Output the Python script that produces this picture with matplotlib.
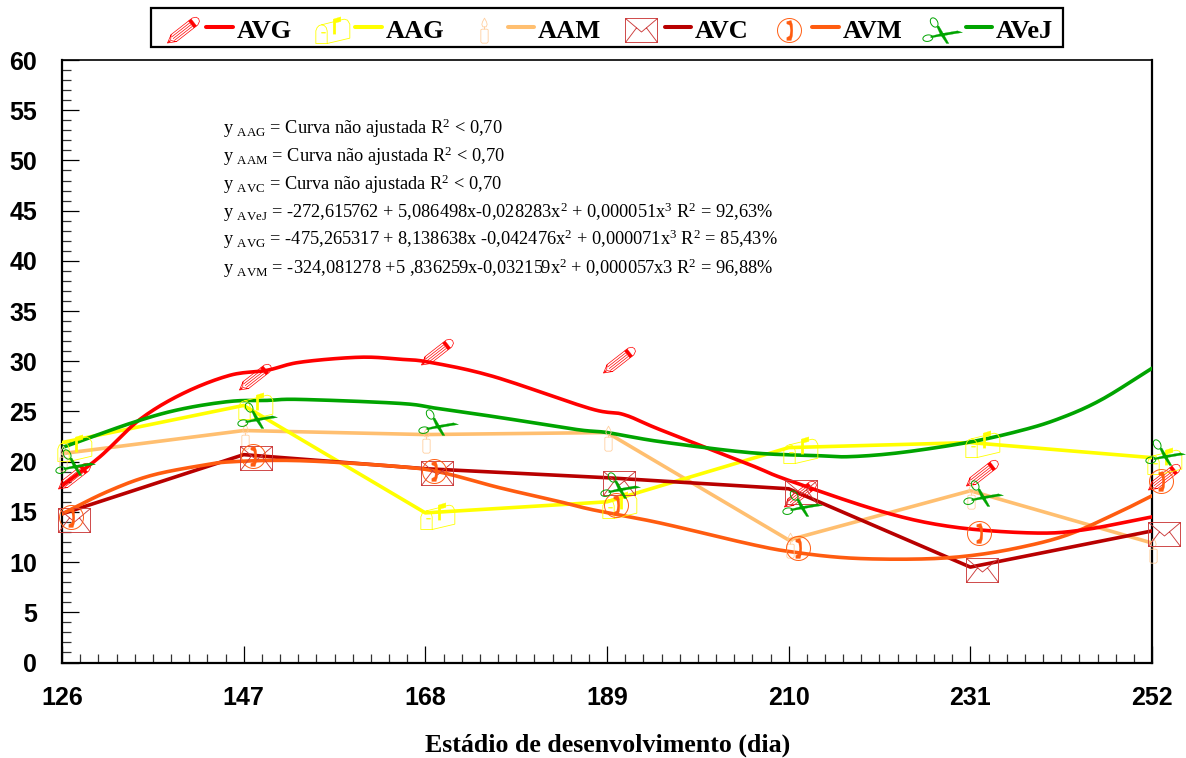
import numpy as np
import matplotlib
matplotlib.use("Agg")
import matplotlib.pyplot as plt
from matplotlib.path import Path
from matplotlib.lines import Line2D
from matplotlib.patches import Rectangle
from matplotlib.legend_handler import HandlerBase
from matplotlib.ticker import MultipleLocator, FixedLocator
from matplotlib.transforms import ScaledTranslation

plt.rcParams['font.family'] = ['Liberation Sans', 'DejaVu Sans']
plt.rcParams['mathtext.fontset'] = 'custom'
plt.rcParams['mathtext.rm'] = 'Liberation Serif'
plt.rcParams['mathtext.it'] = 'Liberation Serif:italic'
plt.rcParams['mathtext.bf'] = 'Liberation Serif:bold'
plt.rcParams['mathtext.default'] = 'rm'

days = [126, 147, 168, 189, 210, 231, 252]
names = ['AVG', 'AAG', 'AAM', 'AVC', 'AVM', 'AVeJ']
colors = ['#ff0000', '#ffff00', '#ffbf70', '#b80000', '#ff5c10', '#00a400']
marker_colors = ['#ff0000', '#ffff00', '#ffcf9f', '#cc3c3c', '#ff5c10', '#00a400']

avg_x = [126, 130.4, 135.0, 140.0, 145.4, 149.7, 153.5, 160.4, 165.1, 168.5, 175.8, 187.0, 190.9, 195.1, 205.5, 209.8, 220.9, 229.0, 238.2, 244.0, 252]
avg_y = [17.6, 20.5, 24.2, 26.8, 28.6, 29.1, 29.9, 30.4, 30.2, 29.9, 28.5, 25.3, 24.7, 23.2, 19.7, 18.2, 15.0, 13.5, 12.9, 13.2, 14.5]
aag_x = days
aag_y = [21.9, 25.6, 14.9, 16.0, 21.4, 21.9, 20.4]
aam_x = days
aam_y = [20.8, 23.1, 22.7, 22.9, 12.2, 17.1, 11.9]
avc_x = days
avc_y = [14.8, 20.7, 19.3, 18.4, 17.3, 9.5, 13.1]
avm_x = [126, 131.2, 136.2, 142, 145.8, 153.5, 165.1, 170, 176.6, 183.6, 187.4, 195.1, 205.5, 210.5, 217.1, 224.8, 230.6, 236.4, 242.2, 248, 252]
avm_y = [14.8, 17.0, 18.6, 19.6, 20.0, 20.1, 19.5, 18.9, 17.4, 16.0, 15.2, 13.9, 11.8, 11.0, 10.4, 10.3, 10.6, 11.4, 12.7, 14.9, 16.6]
avej_x = [126, 134.2, 139.6, 145.4, 149.7, 153.5, 165.1, 169.4, 176.6, 185.5, 189, 195.1, 205.5, 213.3, 217.1, 222.9, 230.6, 236.4, 241.0, 246, 252]
avej_y = [21.4, 23.9, 25.2, 26.0, 26.1, 26.2, 25.8, 25.3, 24.4, 23.2, 22.9, 22.0, 20.9, 20.6, 20.5, 20.9, 21.9, 23.0, 24.2, 26.1, 29.3]

avg_pts = [19.0, 28.8, 31.3, 30.5, 17.2, 19.3, 18.9]
aag_pts = [21.8, 25.9, 15.0, 16.1, 21.6, 22.2, 20.5]
aam_pts = [20.9, 23.1, 22.7, 22.9, 12.2, 17.1, 11.7]
avc_pts = [14.6, 20.8, 19.3, 18.3, 17.4, 9.6, 13.2]
avm_pts = [14.9, 21.0, 19.5, 16.1, 11.8, 13.3, 18.5]
avej_pts = [20.4, 25.0, 24.3, 18.1, 16.3, 17.3, 21.4]

equations = [
    r"y $_{\mathrm{AAG}}$ = Curva não ajustada R$^{2}$ < 0,70",
    r"y $_{\mathrm{AAM}}$ = Curva não ajustada R$^{2}$ < 0,70",
    r"y $_{\mathrm{AVC}}$ = Curva não ajustada R$^{2}$ < 0,70",
    r"y $_{\mathrm{AVeJ}}$ = -272,615762 + 5,086498x-0,028283x$^{2}$ + 0,000051x$^{3}$ R$^{2}$ = 92,63%",
    r"y $_{\mathrm{AVG}}$ = -475,265317 + 8,138638x -0,042476x$^{2}$ + 0,000071x$^{3}$ R$^{2}$ = 85,43%",
    r"y $_{\mathrm{AVM}}$ = -324,081278 +5 ,836259x-0,032159x$^{2}$ + 0,000057x3 R$^{2}$ = 96,88%",
]

S = 21.0
MS = 2 * S * 72 / 100


def build(polys):
    v, c = [(S, S)], [Path.MOVETO]
    for pts, closed in polys:
        pts = [tuple(p) for p in pts]
        v.append(pts[0]); c.append(Path.MOVETO)
        for p in pts[1:]:
            v.append(p); c.append(Path.LINETO)
        if closed:
            v.append(pts[0]); c.append(Path.CLOSEPOLY)
    return Path(np.array(v, float) / S, c)


def zoomed(pts, cx, cy):
    return [((x - cx) / 3, (cy - y) / 3) for x, y in pts]


def ellipse(cx, cy, rx, ry, rot=0, n=36):
    t = np.linspace(0, 2 * np.pi, n, endpoint=False)
    x, y = rx * np.cos(t), ry * np.sin(t)
    r = np.deg2rad(rot)
    return list(zip(cx + x * np.cos(r) - y * np.sin(r), cy + x * np.sin(r) + y * np.cos(r)))


def pencil():
    a = np.deg2rad(38)
    u, n = np.array([np.cos(a), np.sin(a)]), np.array([-np.sin(a), np.cos(a)])
    o = np.array([-16.0, -12.5])
    P = lambda t, s: tuple(o + u * t + n * s)
    w = 4.4
    out = [([P(0, 0), P(8, w), P(35, w), P(38.5, w * .6), P(39.5, 0), P(38.5, -w * .6), P(35, -w), P(8, -w)], True),
           ([P(8, w), P(4, 0), P(8, -w)], False)]
    for s in (-2.2, 0, 2.2):
        out.append(([P(7, s), P(30, s)], False))
    fill = [([P(30, w), P(33.5, w), P(33.5, -w), P(30, -w)], True), ([P(0, 0), P(3, 1), P(3, -1)], True)]
    return out, fill


def mailbox():
    c = (543, 89)
    arch = [(493, 128), (493, 90), (497, 80), (503, 74), (510, 72), (518, 74), (524, 80), (527, 90), (527, 128)]
    top = [(510, 72), (578, 55), (588, 58), (595, 70), (595, 112), (527, 128)]
    out = [(zoomed(arch, *c), True), (zoomed(top, *c), False)]
    fill = [(zoomed([(545, 100), (545, 55), (568, 48), (568, 62), (553, 66), (553, 100)], *c), True),
            (zoomed([(510, 94), (522, 94), (522, 97), (510, 97)], *c), True)]
    return out, fill


def candle():
    c = (960, 92)
    body = [(949, 90), (953, 88), (967, 88), (971, 90), (971, 126), (967, 130), (953, 130), (949, 126)]
    flame = [(960, 55), (966, 66), (968, 74), (965, 81), (955, 81), (952, 74), (954, 66)]
    return [(zoomed(body, *c), True), (zoomed(flame, *c), True),
            (zoomed([(960, 81), (960, 88)], *c), False)], []


def envelope():
    w, h = 16, 12
    return [([(-w, -h), (w, -h), (w, h), (-w, h)], True),
            ([(-w, h), (0, -1.5), (w, h)], False),
            ([(-w, -h), (-5, 2.6)], False), ([(w, -h), (5, 2.6)], False)], []


def phone():
    c = (480, 92)
    hand = [(472, 65), (485, 62), (489, 75), (490, 92), (489, 108), (485, 122), (472, 122), (472, 113),
            (481, 108), (483, 92), (481, 76), (472, 72)]
    return [(ellipse(0, 0, 12, 12), True)], [(zoomed(hand, *c), True)]


def scissors():
    c = (965, 89)
    blade1 = [(948, 78), (954, 75), (964, 92), (984, 128), (977, 128), (958, 100)]
    blade2 = [(930, 106), (958, 99), (1010, 90), (1025, 95), (1000, 99), (960, 106), (930, 111)]
    out = [(ellipse(*zoomed([(940, 65)], *c)[0], 5, 3.4, -60), True),
           (ellipse(*zoomed([(921, 112)], *c)[0], 5, 3.2, 10), True)]
    return out, [(zoomed(blade1, *c), True), (zoomed(blade2, *c), True)]


def smooth(x, y, n=12):
    """Catmull-Rom rendering through the read points, for the fitted curves."""
    x, y = np.asarray(x, float), np.asarray(y, float)
    px = np.r_[2 * x[0] - x[1], x, 2 * x[-1] - x[-2]]
    py = np.r_[2 * y[0] - y[1], y, 2 * y[-1] - y[-2]]
    t = np.linspace(0, 1, n, endpoint=False)[:, None]
    xs, ys = [], []
    for p, out in ((px, xs), (py, ys)):
        for i in range(1, len(p) - 2):
            a, b, c, d = p[i - 1], p[i], p[i + 1], p[i + 2]
            out.append((0.5 * (2 * b + (c - a) * t + (2 * a - 5 * b + 4 * c - d) * t ** 2 + (3 * b - a - 3 * c + d) * t ** 3)).ravel())
        out.append(p[-2:-1])
    return np.concatenate(xs), np.concatenate(ys)


glyphs = [pencil(), mailbox(), candle(), envelope(), phone(), scissors()]
marker_lw = [0.5, 0.6, 0.6, 0.65, 0.7, 0.7]
offsets = [(11.5, 4), (11.5, 4), (1, 5), (12, 4), (9, 4), (13, 4)]
line_data = [smooth(avg_x, avg_y), (aag_x, aag_y), (aam_x, aam_y), (avc_x, avc_y), smooth(avm_x, avm_y), smooth(avej_x, avej_y)]
point_data = [avg_pts, aag_pts, aam_pts, avc_pts, avm_pts, avej_pts]
order = [2, 1, 3, 4, 0, 5]

W, H = 1186, 758
fig = plt.figure(figsize=(W / 100, H / 100), dpi=100, facecolor='white')
ax = fig.add_axes([62 / W, 1 - 662.5 / H, 1090 / W, 602.5 / H])
ax.set_xlim(126, 252)
ax.set_ylim(0, 60)

for i in order:
    ax.plot(*line_data[i], color=colors[i], lw=2.6, solid_joinstyle='round', solid_capstyle='round', zorder=3)

for i in range(6):
    dx, dy = offsets[i]
    tr = ax.transData + ScaledTranslation(dx / 100, -dy / 100, fig.dpi_scale_trans)
    out, fill = glyphs[i]
    ax.plot(days, point_data[i], ls='none', marker=build(out), ms=MS, mfc='none', mec=marker_colors[i],
            mew=marker_lw[i], transform=tr, clip_on=False, zorder=4)
    if fill:
        ax.plot(days, point_data[i], ls='none', marker=build(fill), ms=MS, mfc=marker_colors[i], mec=marker_colors[i],
                mew=0.2, transform=tr, clip_on=False, zorder=4)

for y, eq in zip([128, 156, 184, 212, 239, 268], equations):
    ax.text(223 / W, 1 - y / H, eq, transform=fig.transFigure, family='Liberation Serif', fontsize=13.2,
            va='center', ha='left', color='black')

for side in ['left', 'bottom', 'right']:
    ax.spines[side].set_linewidth(1.6)
ax.spines['top'].set_linewidth(1.2)
ax.xaxis.set_major_locator(FixedLocator(days))
ax.xaxis.set_minor_locator(MultipleLocator(2.1))
ax.yaxis.set_major_locator(MultipleLocator(5))
ax.yaxis.set_minor_locator(MultipleLocator(1))
ax.tick_params(which='major', direction='in', length=12.5, width=0.9, top=False, right=False)
ax.tick_params(which='minor', direction='in', length=6.5, width=0.9, color='#333333', top=False, right=False)
ax.tick_params(axis='x', which='major', pad=17)
ax.tick_params(axis='y', which='major', pad=18)
for t in ax.get_xticklabels() + ax.get_yticklabels():
    t.set_fontsize(18)
    t.set_fontweight('bold')

fig.text(608 / W, 1 - 745 / H, 'Estádio de desenvolvimento (dia)', family='Liberation Serif', fontweight='bold',
         fontsize=18.6, ha='center', va='center')


class GlyphLine(HandlerBase):
    def __init__(self, index):
        super().__init__()
        self.index = index

    def create_artists(self, legend, orig, xd, yd, width, height, fontsize, trans):
        i = self.index
        arts = []
        out, fill = glyphs[i]
        mx = 11.5
        my = height / 2 - 1
        arts.append(Line2D([mx], [my], ls='none', marker=build(out), ms=MS, mfc='none', mec=marker_colors[i],
                           mew=marker_lw[i], transform=trans))
        if fill:
            arts.append(Line2D([mx], [my], ls='none', marker=build(fill), ms=MS, mfc=marker_colors[i],
                               mec=marker_colors[i], mew=0.2, transform=trans))
        arts.append(Line2D([width - 19, width], [height / 2 + 1] * 2, color=colors[i], lw=2.9,
                           solid_capstyle='round', transform=trans))
        return arts


fig.add_artist(Rectangle((151 / W, 1 - 47 / H), 912 / W, 39 / H, transform=fig.transFigure,
                         fc='white', ec='black', lw=1.6, zorder=5))
handles = [Line2D([], [], color=c) for c in colors]
leg = fig.legend(handles, names, ncol=6, loc='center', bbox_to_anchor=(610 / W, 1 - 31 / H),
                 bbox_transform=fig.transFigure,
                 prop={'family': 'Liberation Serif', 'weight': 'bold', 'size': 19},
                 handler_map={h: GlyphLine(i) for i, h in enumerate(handles)},
                 handlelength=2.5, handletextpad=0.15, columnspacing=0.9, borderpad=0,
                 borderaxespad=0, frameon=False)
leg.set_zorder(6)

fig.savefig('out.png', dpi=100)
